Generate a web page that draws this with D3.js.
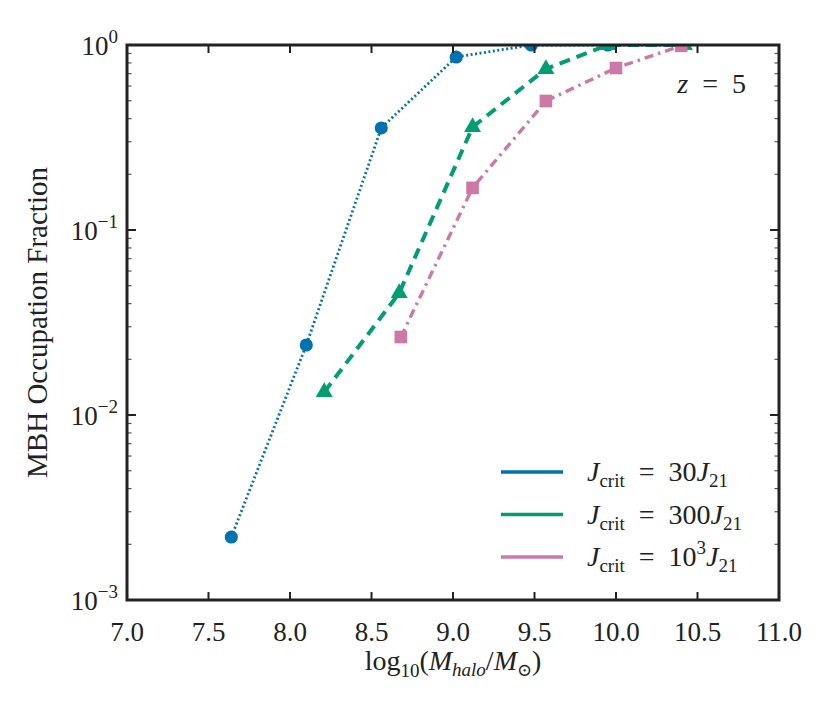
<!doctype html>
<html lang="en">
<head>
  <title>MBH occupation fraction</title>
  <script src="https://d3js.org/d3.v7.min.js"></script>
  <style>
    body { margin: 0px; background: #fff; }
    text { font-family: "Liberation Serif", "DejaVu Serif", serif; fill: #222; }
  </style>
</head>
<body>
    <div id="container"></div>

    <script>
        // data
        var massBlue = [7.64, 8.10, 8.56, 9.02, 9.48, 9.95, 10.41];
        var fracBlue = [0.00219, 0.0239, 0.356, 0.861, 1.0, 1.0, 1.0];
        var massGreen = [8.21, 8.67, 9.12, 9.57, 9.95, 10.42];
        var fracGreen = [0.0133, 0.0456, 0.36, 0.742, 1.0, 1.0];
        var massPink = [8.68, 9.12, 9.57, 10.0, 10.40];
        var fracPink = [0.0264, 0.169, 0.498, 0.751, 0.99];
        var xTicks = [7.0, 7.5, 8.0, 8.5, 9.0, 9.5, 10.0, 10.5, 11.0];
        var yExponents = [0, -1, -2, -3];

        var series = [
            {name: "30", mass: massBlue, frac: fracBlue, color: "#0072b2", dash: "2,2.5", width: 2.8, marker: "circle"},
            {name: "300", mass: massGreen, frac: fracGreen, color: "#009e73", dash: "11,7", width: 4, marker: "triangle"},
            {name: "1000", mass: massPink, frac: fracPink, color: "#cc79a7", dash: "9,5,2.5,5", width: 3.4, marker: "square"}
        ];

        var margin = { top: 45, right: 51, bottom: 112, left: 127 },
            width = 830 - margin.left - margin.right,
            height = 712 - margin.top - margin.bottom;

        var svg = d3.select('div#container').append('svg')
            .attr('width', 830)
            .attr('height', 712);

        var g = svg.append("g")
            .attr('transform', 'translate(' + margin.left + ',' + margin.top + ')');

        var x = d3.scaleLinear().domain([7, 11]).range([0, width]);
        var y = d3.scaleLog().domain([1e-3, 1]).range([height, 0]);

        g.append("clipPath").attr("id", "clip")
            .append("rect").attr("width", width).attr("height", height);

        var plot = g.append("g").attr("clip-path", "url(#clip)");

        var line = d3.line()
            .x(function(d) { return x(d[0]); })
            .y(function(d) { return y(d[1]); });

        series.forEach(function(s) {
            var pts = s.mass.map(function(m, i) { return [m, s.frac[i]]; });
            plot.append("path")
                .datum(pts)
                .attr("fill", "none")
                .attr("stroke", s.color)
                .attr("stroke-width", s.width)
                .attr("stroke-dasharray", s.dash)
                .attr("d", line);

            var sym = s.marker == "circle" ? d3.symbolCircle : (s.marker == "triangle" ? d3.symbolTriangle : d3.symbolSquare);
            var size = s.marker == "circle" ? 135 : (s.marker == "triangle" ? 125 : 160);
            plot.selectAll(null)
                .data(pts)
                .enter()
                .append("path")
                .attr("transform", function(d) { return "translate(" + x(d[0]) + "," + y(d[1]) + ")"; })
                .attr("d", d3.symbol().type(sym).size(size))
                .attr("fill", s.color);
        });

        // ticks (inward)
        var tickColor = "#222";
        xTicks.slice(1, -1).forEach(function(t) {
            g.append("line").attr("x1", x(t)).attr("x2", x(t)).attr("y1", height).attr("y2", height - 8)
                .attr("stroke", tickColor).attr("stroke-width", 2);
            g.append("line").attr("x1", x(t)).attr("x2", x(t)).attr("y1", 0).attr("y2", 8)
                .attr("stroke", tickColor).attr("stroke-width", 2);
        });
        xTicks.forEach(function(t) {
            g.append("text")
                .attr("x", x(t)).attr("y", height + 41)
                .attr("text-anchor", "middle")
                .style("font-size", "27px")
                .text(t.toFixed(1));
        });

        yExponents.forEach(function(e) {
            var v = Math.pow(10, e);
            [0, width].forEach(function(x0) {
                var dir = x0 == 0 ? 1 : -1;
                g.append("line").attr("x1", x0).attr("x2", x0 + dir * 9).attr("y1", y(v)).attr("y2", y(v))
                    .attr("stroke", tickColor).attr("stroke-width", 2);
                if (e > -3) {
                    for (var k = 2; k < 10; k++) {
                        var mv = v / 10 * k;
                        g.append("line").attr("x1", x0).attr("x2", x0 + dir * 4.5).attr("y1", y(mv)).attr("y2", y(mv))
                            .attr("stroke", "#555").attr("stroke-width", 1.2);
                    }
                }
            });
            var lab = g.append("text")
                .attr("x", -9).attr("y", y(v) + 10)
                .attr("text-anchor", "end")
                .style("font-size", "27px");
            lab.append("tspan").text("10");
            lab.append("tspan").attr("dy", -12).style("font-size", "19px").text(e == 0 ? "0" : "\u2212" + (-e));
        });

        // frame
        g.append("rect")
            .attr("width", width).attr("height", height)
            .attr("fill", "none").attr("stroke", "#222").attr("stroke-width", 3);

        // axis labels
        var xl = svg.append("text")
            .attr("x", margin.left + width / 2).attr("y", 670)
            .attr("text-anchor", "middle")
            .style("font-size", "28px");
        xl.append("tspan").text("log");
        xl.append("tspan").attr("dy", 7).style("font-size", "19px").text("10");
        xl.append("tspan").attr("dy", -7).text("(");
        xl.append("tspan").style("font-style", "italic").text("M");
        xl.append("tspan").attr("dy", 6).style("font-size", "19px").style("font-style", "italic").text("halo");
        xl.append("tspan").attr("dy", -6).text("/");
        xl.append("tspan").style("font-style", "italic").text("M");
        xl.append("tspan").attr("dy", 6).style("font-size", "18px").text("\u2299");
        xl.append("tspan").attr("dy", -6).text(")");

        svg.append("text")
            .attr("transform", "translate(47," + (margin.top + height / 2) + ") rotate(-90)")
            .attr("text-anchor", "middle")
            .style("font-size", "29px")
            .text("MBH Occupation Fraction");

        // redshift note
        var eq = "\u2002=\u2002";
        var zt = svg.append("text")
            .attr("x", 746).attr("y", 93)
            .attr("text-anchor", "end")
            .style("font-size", "28px");
        zt.append("tspan").style("font-style", "italic").text("z");
        zt.append("tspan").text(eq + "5");

        // legend
        var legendLabels = [["30", null], ["300", null], ["10", "3"]];
        var legend = svg.append("g").attr("transform", "translate(501,472)");
        series.forEach(function(s, i) {
            var row = legend.append("g").attr("transform", "translate(0," + (i * 42.5) + ")");
            row.append("line").attr("x1", 0).attr("x2", 62).attr("y1", 0).attr("y2", 0)
                .attr("stroke", s.color).attr("stroke-width", 3.5);
            var t = row.append("text").attr("x", 86).attr("y", 9).style("font-size", "28px");
            t.append("tspan").style("font-style", "italic").text("J");
            t.append("tspan").attr("dy", 6).style("font-size", "19px").text("crit");
            t.append("tspan").attr("dy", -6).text(eq + legendLabels[i][0]);
            if (legendLabels[i][1]) {
                t.append("tspan").attr("dy", -12).style("font-size", "19px").text(legendLabels[i][1]);
                t.append("tspan").attr("dy", 12).style("font-style", "italic").text("J");
            } else {
                t.append("tspan").style("font-style", "italic").text("J");
            }
            t.append("tspan").attr("dy", 6).style("font-size", "19px").text("21");
        });
    </script>
</body>
</html>
